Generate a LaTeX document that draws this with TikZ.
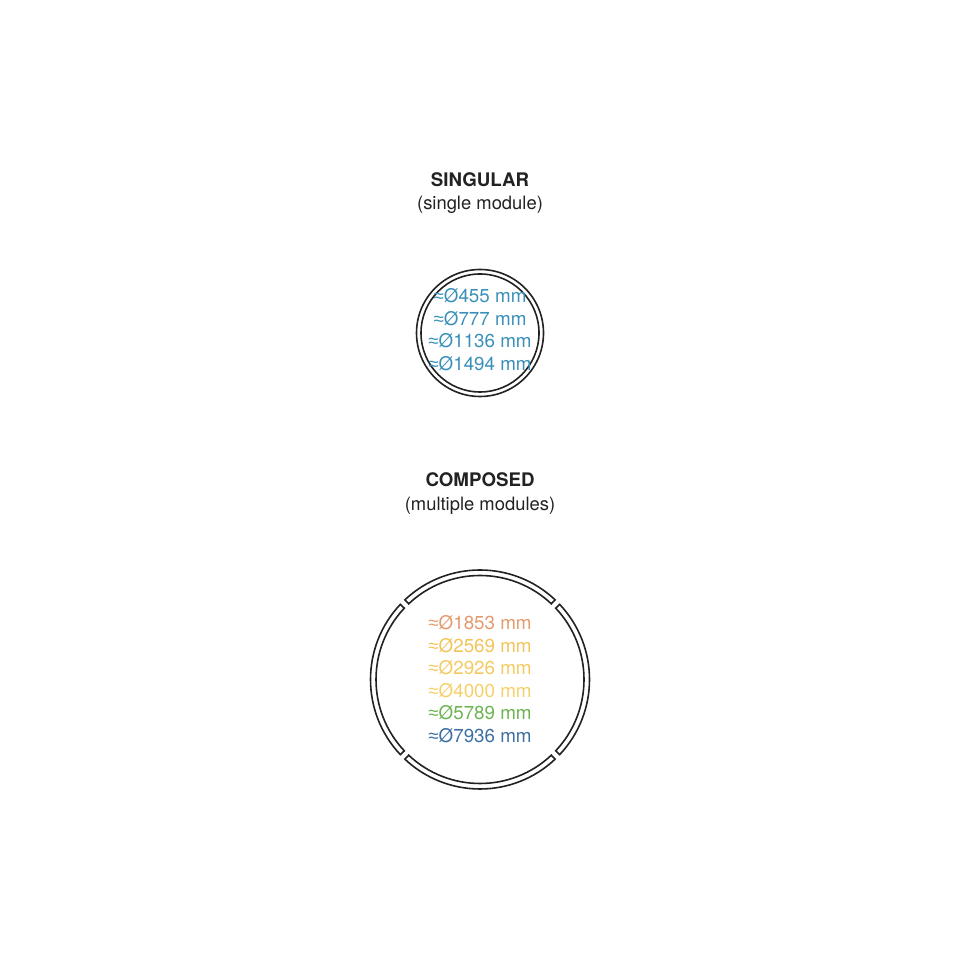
\documentclass[tikz,border=0pt]{standalone}
\usepackage{fontspec}
\usetikzlibrary{calc}
\setmainfont{TeX Gyre Heros}
\newfontfamily\symfont{Liberation Sans}
\definecolor{ink}{HTML}{222222}
\definecolor{sblue}{HTML}{3A90B8}
\definecolor{corange}{HTML}{E49A6E}
\definecolor{cyellowa}{HTML}{F2C45A}
\definecolor{cyellowb}{HTML}{F4CA60}
\definecolor{cyellowc}{HTML}{F5D06A}
\definecolor{cgreen}{HTML}{6DB352}
\definecolor{cblue}{HTML}{3E6FA3}
\newcommand{\apx}{{\symfont ≈}}
\tikzset{
  title/.style={font=\fontsize{18.7}{22}\selectfont\bfseries, text=ink, inner sep=0pt},
  subtitle/.style={font=\fontsize{18.4}{22}\selectfont, text=ink, inner sep=0pt},
  dim/.style={font=\fontsize{18.8}{22}\selectfont, inner sep=0pt, anchor=base},
  ring/.style={draw=ink, line width=1.6pt},
}
\begin{document}
\begin{tikzpicture}[x=1pt,y=1pt]
\useasboundingbox (0,0) rectangle (960,960);
% Singular
\node[title] (t1) at (480,780) {SINGULAR};
\node[subtitle] (s1) at (480,755.5) {(single module)};
\coordinate (c1) at (480,627);
\draw[ring] (c1) circle[radius=63.5];
\draw[ring] (c1) circle[radius=59];
\node[dim, text=sblue] (d1) at (480,657) {\apx Ø455 mm};
\node[dim, text=sblue] (d2) at (480,634.5) {\apx Ø777 mm};
\node[dim, text=sblue] (d3) at (480,612) {\apx Ø1136 mm};
\node[dim, text=sblue] (d4) at (480,589.5) {\apx Ø1494 mm};
% Composed
\node[title] (t2) at (480,480) {COMPOSED};
\node[subtitle] (s2) at (480,454.5) {(multiple modules)};
\coordinate (c2) at (480,280.5);
\foreach \a in {45,135,225,315}{
  \draw[ring, line join=miter] ($(c2)+({\a+1.7}:109.5)$) arc[start angle={\a+1.7}, end angle={\a+90-1.7}, radius=109.5]
    -- ($(c2)+({\a+90-1.7}:104)$) arc[start angle={\a+90-1.7}, end angle={\a+1.7}, radius=104] -- cycle;
}
\node[dim, text=corange] (e1) at (480,330) {\apx Ø1853 mm};
\node[dim, text=cyellowa] (e2) at (480,307.5) {\apx Ø2569 mm};
\node[dim, text=cyellowb] (e3) at (480,285) {\apx Ø2926 mm};
\node[dim, text=cyellowc] (e4) at (480,262.5) {\apx Ø4000 mm};
\node[dim, text=cgreen] (e5) at (480,240) {\apx Ø5789 mm};
\node[dim, text=cblue] (e6) at (480,217.5) {\apx Ø7936 mm};
\end{tikzpicture}
\end{document}
